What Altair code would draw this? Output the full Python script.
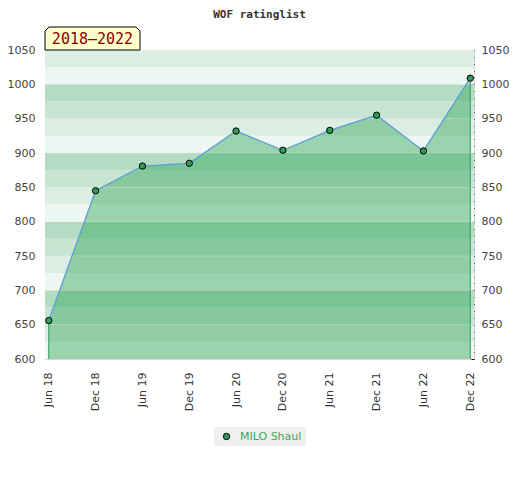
import altair as alt
import pandas as pd

title_text = "WOF ratinglist"
period_label = "2018–2022"
player = "MILO Shaul"
dates = ["Jun 18", "Dec 18", "Jun 19", "Dec 19", "Jun 20",
         "Dec 20", "Jun 21", "Dec 21", "Jun 22", "Dec 22"]
ratings = [656, 845, 881, 885, 932, 904, 933, 955, 903, 1009]
y_min, y_max = 600, 1050

W, H = 429, 309

df = pd.DataFrame({"date": dates, "rating": ratings, "player": [player] * len(dates)})
edges = df.iloc[[0, len(df) - 1]]

band_lo = list(range(y_min, y_max, 25))
palette = {75: "#b3dcc3", 50: "#c8e5d4", 25: "#dcede3", 0: "#eff7f2"}
bands = pd.DataFrame({
    "lo": band_lo,
    "hi": [v + 25 for v in band_lo],
    "c": [palette[v % 100] for v in band_lo],
})
grid = pd.DataFrame({"v": list(range(y_min + 50, y_max, 50))})
box = pd.DataFrame({"label": [period_label]})
titles = pd.DataFrame({"t": [title_text]})

yscale = alt.Scale(domain=[y_min, y_max], nice=False, zero=False)
xscale = alt.Scale(type="point", padding=0.08)

x_axis = alt.Axis(labelAngle=270, ticks=False, domain=False, labelPadding=13,
                  labelFontSize=11, labelColor="#333333", labelFont="DejaVu Sans",
                  title=None, grid=False)
left_axis = alt.Axis(orient="left", values=list(range(y_min, y_max + 1, 50)),
                     format="d", ticks=False, tickSize=0, domain=False, grid=False,
                     labelPadding=10, labelColor="#444444", labelFontSize=11,
                     labelFont="DejaVu Sans", title=None)
right_axis = alt.Axis(orient="right", values=list(range(y_min, y_max + 1, 10)),
                      format="d",
                      labelExpr="datum.value % 50 == 0 ? datum.label : ''",
                      tickSize=3, tickColor="black", domain=False, grid=False,
                      offset=-3, labelPadding=7, labelOverlap=False,
                      labelColor="#444444", labelFontSize=11,
                      labelFont="DejaVu Sans", title=None)

xenc = alt.X("date:N", sort=dates, scale=xscale, axis=x_axis)

band_layer = alt.Chart(bands).mark_rect().encode(
    x=alt.value(0), x2=alt.value(W),
    y=alt.Y("lo:Q", scale=yscale, axis=None), y2="hi:Q",
    color=alt.Color("c:N", scale=None),
)

area = alt.Chart(df).mark_area(color="#32a658", opacity=0.45).encode(
    x=xenc,
    y=alt.Y("rating:Q", scale=yscale, axis=left_axis),
    y2=alt.datum(y_min),
)

grid_layer = alt.Chart(grid).mark_rule(color="#e4e4e4", opacity=0.35, strokeWidth=1).encode(
    x=alt.value(0), x2=alt.value(W),
    y=alt.Y("v:Q", scale=yscale, axis=None),
)

edge_layer = alt.Chart(edges).mark_rule(color="#2e9e55", strokeWidth=1).encode(
    x=xenc,
    y=alt.Y("rating:Q", scale=yscale, axis=None),
    y2=alt.datum(y_min),
)

line = alt.Chart(df).mark_line(color="#5aa0d8", strokeWidth=1.3).encode(
    x=xenc,
    y=alt.Y("rating:Q", scale=yscale, axis=right_axis),
)

points = alt.Chart(df).mark_point(filled=True, size=40, stroke="black",
                                  strokeWidth=1, opacity=1).encode(
    x=xenc,
    y=alt.Y("rating:Q", scale=yscale, axis=None),
    color=alt.Color("player:N", scale=alt.Scale(range=["#2e9e55"]),
                    legend=alt.Legend(title=None, orient="none", legendX=169,
                                      legendY=377, fillColor="#f0f0f0", padding=4,
                                      labelColor="#3aa85c", labelFontSize=11,
                                      labelFont="DejaVu Sans", labelOffset=8,
                                      symbolOffset=3,
                                      symbolStrokeColor="black",
                                      symbolStrokeWidth=1, symbolSize=40,
                                      symbolType="circle")),
)

tab_path = ("M-1,0.242 L-1,-0.158 L-0.916,-0.242 L0.916,-0.242 "
            "L1,-0.158 L1,0.242 Z")
tab = alt.Chart(box).mark_point(shape=tab_path, size=95 * 95, fill="#ffffcc",
                                stroke="black", strokeWidth=1, opacity=1).encode(
    x=alt.value(47.5), y=alt.value(-11.5),
)
tab_text = alt.Chart(box).mark_text(font="DejaVu Sans Mono", fontSize=15,
                                    color="#8b0000", align="center",
                                    baseline="middle").encode(
    x=alt.value(47.5), y=alt.value(-11), text="label:N",
)
title_layer = alt.Chart(titles).mark_text(font="DejaVu Sans Mono", fontWeight="bold",
                                          fontSize=11, color="#333333",
                                          align="center", baseline="middle").encode(
    x=alt.value(W / 2), y=alt.value(-35), text="t:N",
)

chart = alt.layer(
    band_layer, area, grid_layer, edge_layer, line, points, tab, tab_text, title_layer
).resolve_axis(y="independent").properties(
    width=W, height=H,
    autosize=alt.AutoSizeParams(type="none"),
    padding={"left": 37, "top": 42, "right": 38, "bottom": 100},
).configure_view(stroke="#d8d8d8", strokeWidth=1)

chart.save("out.html", embed_options={"renderer": "svg", "actions": False})
